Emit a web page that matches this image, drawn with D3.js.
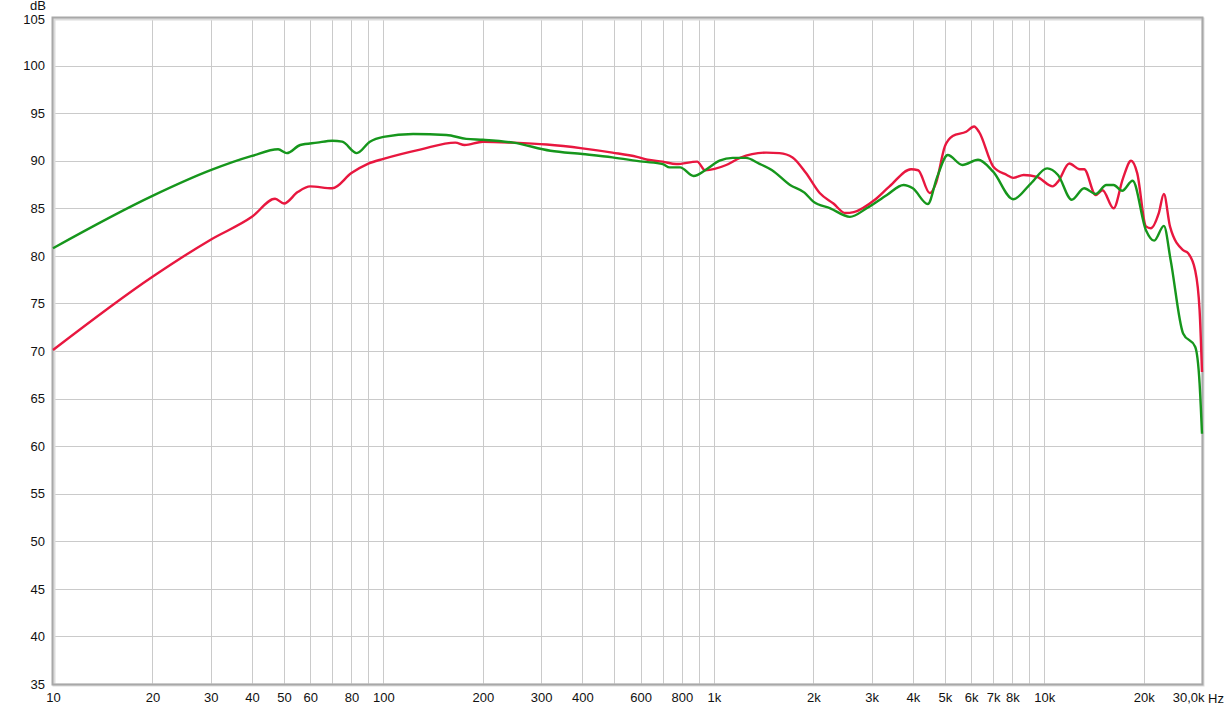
<!doctype html>
<html>
<head>
<meta charset="utf-8">
<style>
  body { margin: 0; background: #fff; }
  svg text { font-family: "Liberation Sans", Arial, sans-serif; font-size: 13px; fill: #111; }
</style>
<script src="https://d3js.org/d3.v7.min.js"></script>
</head>
<body>
<svg width="1228" height="712"></svg>
<script>
// frequency response
var redFreq = [10, 20, 30, 40, 47, 50, 55, 60, 70, 80, 90, 100, 130, 165, 176, 200, 247, 312, 400, 493, 585, 630, 700, 770, 890, 940, 1090, 1200, 1440, 1580, 1730, 1900, 2090, 2300, 2500, 2650, 3070, 3400, 3950, 4150, 4500, 4700, 5000, 5280, 5800, 6130, 6350, 7000, 7700, 8050, 8660, 9500, 10600, 11000, 11900, 12800, 13200, 14300, 15000, 16200, 17300, 18300, 19100, 20300, 21000, 22200, 23000, 24000, 26300, 27200, 28600, 29500, 30000];
var redDb = [70.1, 77.8, 81.7, 84.1, 86.0, 85.5, 86.7, 87.3, 87.1, 88.7, 89.7, 90.2, 91.2, 91.9, 91.65, 92.0, 91.9, 91.7, 91.3, 90.85, 90.4, 90.1, 89.9, 89.65, 89.9, 89.0, 89.55, 90.3, 90.85, 90.8, 90.35, 88.7, 86.6, 85.5, 84.5, 84.6, 85.9, 87.3, 89.1, 89.0, 86.6, 87.65, 91.5, 92.6, 93.05, 93.6, 93.0, 89.4, 88.5, 88.2, 88.5, 88.3, 87.3, 87.8, 89.7, 89.1, 89.1, 86.4, 86.9, 85.0, 88.15, 90.0, 88.7, 83.1, 82.9, 84.5, 86.5, 83.1, 80.6, 80.3, 78.5, 74.3, 67.8];

var greenFreq = [10, 20, 30, 40, 48, 51, 56, 63, 70, 75, 83, 91, 100, 123, 155, 178, 200, 247, 320, 400, 493, 610, 700, 735, 790, 868, 950, 1040, 1140, 1250, 1370, 1500, 1700, 1880, 2000, 2250, 2580, 2900, 3340, 3750, 4000, 4440, 4740, 5100, 5650, 6300, 7000, 8050, 9100, 10200, 11000, 12100, 13200, 14300, 15400, 16200, 17200, 18500, 20300, 21500, 23000, 24100, 26300, 28600, 29500, 30000];
var greenDb = [80.8, 86.3, 89.0, 90.5, 91.2, 90.8, 91.65, 91.9, 92.1, 92.0, 90.8, 92.0, 92.5, 92.8, 92.7, 92.3, 92.2, 91.9, 91.05, 90.7, 90.35, 89.9, 89.65, 89.3, 89.3, 88.4, 89.1, 90.0, 90.3, 90.3, 89.7, 89.0, 87.45, 86.65, 85.7, 85.0, 84.1, 85.0, 86.4, 87.45, 87.1, 85.45, 88.3, 90.6, 89.55, 90.1, 88.85, 85.95, 87.6, 89.2, 88.5, 85.9, 87.1, 86.5, 87.45, 87.45, 86.85, 87.9, 82.7, 81.6, 83.15, 79.6, 71.85, 70.45, 66.6, 61.3];

var gridFreq = [10, 20, 30, 40, 50, 60, 70, 80, 90, 100, 200, 300, 400, 500, 600, 700, 800, 900, 1000, 2000, 3000, 4000, 5000, 6000, 7000, 8000, 9000, 10000, 20000];
var labelFreq = [10, 20, 30, 40, 50, 60, 80, 100, 200, 300, 400, 600, 800, 1000, 2000, 3000, 4000, 5000, 6000, 7000, 8000, 10000, 20000, 30000];
var dbTicks = [35, 40, 45, 50, 55, 60, 65, 70, 75, 80, 85, 90, 95, 100, 105];

var svg = d3.select("svg");
var plotLeft = 53, plotRight = 1202, plotTop = 18, plotBottom = 684;

var x = d3.scaleLog().domain([10, 30000]).range([plotLeft, plotRight]);
var y = d3.scaleLinear().domain([35, 105]).range([plotBottom, plotTop]);

function fmt(f) {
    if (f == 30000) return "30,0k";
    if (f >= 1000) return (f / 1000) + "k";
    return "" + f;
}

var g = svg.append("g");

// grid
g.selectAll(".vgrid")
 .data(gridFreq)
 .enter().append("line")
 .attr("x1", function(d) { return Math.round(x(d)) + 0.5; })
 .attr("x2", function(d) { return Math.round(x(d)) + 0.5; })
 .attr("y1", plotTop).attr("y2", plotBottom)
 .attr("stroke", "#cacaca").attr("stroke-width", 1);

g.selectAll(".hgrid")
 .data(dbTicks)
 .enter().append("line")
 .attr("x1", plotLeft).attr("x2", plotRight)
 .attr("y1", function(d) { return Math.round(y(d)) + 0.5; })
 .attr("y2", function(d) { return Math.round(y(d)) + 0.5; })
 .attr("stroke", "#cacaca").attr("stroke-width", 1);

// frame with a soft shadow
svg.append("rect")
   .attr("x", plotLeft + 1).attr("y", plotTop + 1)
   .attr("width", plotRight - plotLeft).attr("height", plotBottom - plotTop)
   .attr("fill", "none").attr("stroke", "#dcdcdc").attr("stroke-width", 3);
svg.append("rect")
   .attr("x", plotLeft - 0.5).attr("y", plotTop - 0.5)
   .attr("width", plotRight - plotLeft + 1).attr("height", plotBottom - plotTop + 1)
   .attr("fill", "none").attr("stroke", "#a8a8a8").attr("stroke-width", 2);

// axes (labels only)
var yAxis = d3.axisLeft(y).tickValues(dbTicks).tickSize(0).tickPadding(7);
var ya = svg.append("g").attr("transform", "translate(" + (plotLeft - 1) + ",0)").call(yAxis);
var xAxis = d3.axisBottom(x).tickValues(labelFreq).tickFormat(fmt).tickSize(0).tickPadding(8);
var xa = svg.append("g").attr("transform", "translate(0," + (plotBottom + 1) + ")").call(xAxis);
[ya, xa].forEach(function(a) {
    a.select(".domain").remove();
    a.selectAll("text").attr("font-family", "Liberation Sans, Arial, sans-serif").attr("font-size", 13).attr("fill", "#111");
});
// the top label sits a touch lower so it clears "dB"
ya.selectAll(".tick").filter(function(d) { return d == 105; }).select("text").attr("dy", "0.45em");
xa.selectAll(".tick").filter(function(d) { return d == 30000; }).select("text").attr("text-anchor", "end").attr("dx", 2);

svg.append("text").attr("x", plotRight + 6).attr("y", plotBottom + 19).text("Hz");
svg.append("text").attr("x", 46).attr("y", 10).attr("text-anchor", "end").attr("font-size", 12).text("dB");

// curves
var line = d3.line()
    .x(function(d) { return x(d[0]); })
    .y(function(d) { return y(d[1]); })
    .curve(d3.curveMonotoneX);

var red = redFreq.map(function(f, i) { return [f, redDb[i]]; });
var green = greenFreq.map(function(f, i) { return [f, greenDb[i]]; });

svg.append("path").datum(red)
   .attr("d", line).attr("fill", "none")
   .attr("stroke", "#e8173f").attr("stroke-width", 2.4);
svg.append("path").datum(green)
   .attr("d", line).attr("fill", "none")
   .attr("stroke", "#16961c").attr("stroke-width", 2.4);
</script>
</body>
</html>
